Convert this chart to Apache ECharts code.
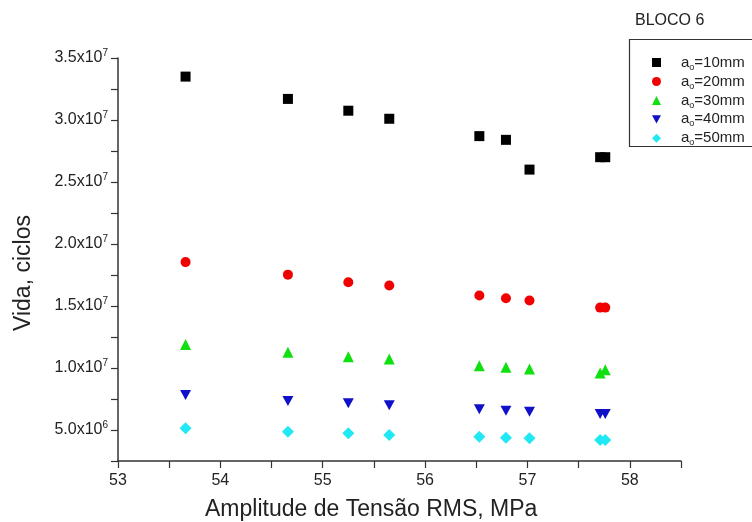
<!DOCTYPE html>
<html>
<head>
<meta charset="utf-8">
<script src="https://cdn.jsdelivr.net/npm/echarts@6/dist/echarts.min.js"></script>
<style>
html,body{margin:0;padding:0;background:#fff;}
#chart{width:752px;height:522px;}
</style>
</head>
<body>
<div id="chart"></div>
<script>
// ---- data ----
const stressRMS = [53.66, 54.66, 55.25, 55.65, 56.53, 56.79, 57.02, 57.71, 57.76];
const life10 = [3.35e7, 3.17e7, 3.075e7, 3.01e7, 2.87e7, 2.84e7, 2.60e7, 2.70e7, 2.70e7];
const life20 = [1.854e7, 1.753e7, 1.692e7, 1.665e7, 1.584e7, 1.563e7, 1.544e7, 1.487e7, 1.487e7];
const life30 = [1.19e7, 1.127e7, 1.091e7, 1.073e7, 1.019e7, 1.006e7, 0.992e7, 9.6e6, 9.85e6];
const life40 = [7.83e6, 7.34e6, 7.15e6, 7.0e6, 6.67e6, 6.56e6, 6.48e6, 6.3e6, 6.3e6];
const life50 = [5.14e6, 4.86e6, 4.73e6, 4.6e6, 4.46e6, 4.38e6, 4.33e6, 4.19e6, 4.19e6];
const seriesNames = ['10mm', '20mm', '30mm', '40mm', '50mm'];
const yTickValues = [5e6, 1e7, 1.5e7, 2e7, 2.5e7, 3e7, 3.5e7];
const yTickMantissa = ['5.0', '1.0', '1.5', '2.0', '2.5', '3.0', '3.5'];
const yTickExponent = ['6', '7', '7', '7', '7', '7', '7'];
const xTickValues = [53, 54, 55, 56, 57, 58];
const xTickLabels = ['53', '54', '55', '56', '57', '58'];
const chartTitle = 'BLOCO 6';
const xTitle = 'Amplitude de Tensão RMS, MPa';
const yTitle = 'Vida, ciclos';

const FONT = '"Liberation Sans", Arial, Helvetica, sans-serif';
const TXT = '#222';

function pairs(ys) { return stressRMS.map((x, i) => [x, ys[i]]); }

const styles = [
  { symbol: 'rect', size: 10, color: '#000000' },
  { symbol: 'circle', size: 10, color: '#f00000' },
  { symbol: 'triangle', size: 11, color: '#10e010' },
  { symbol: 'path://M0,0 L10,0 L5,9 Z', size: [11, 10], color: '#1010c8' },
  { symbol: 'diamond', size: 12, color: '#20e8f4' }
];
const allData = [life10, life20, life30, life40, life50];

const chart = echarts.init(document.getElementById('chart'), null, { renderer: 'canvas' });

const option = {
  animation: false,
  backgroundColor: '#fff',
  title: {
    text: chartTitle,
    left: 630,
    top: 8,
    textStyle: { fontFamily: FONT, fontSize: 16, fontWeight: 'normal', color: TXT }
  },
  legend: {
    orient: 'vertical',
    left: 652,
    top: 55,
    itemWidth: 9,
    itemHeight: 9,
    itemGap: 2.3,
    padding: 0,
    selectedMode: false,
    data: seriesNames,
    formatter: function (name) { return '{sp| }{a|a}{s|o}{a|=' + name + '}'; },
    textStyle: {
      fontFamily: FONT,
      color: TXT,
      rich: {
        sp: { width: 15, fontSize: 15, lineHeight: 18.3 },
        a: { fontFamily: FONT, fontSize: 15, color: TXT, lineHeight: 18.3 },
        s: { fontFamily: FONT, fontSize: 9, color: TXT, lineHeight: 9, verticalAlign: 'bottom' }
      }
    }
  },
  grid: {
    left: 118, right: 71, top: 58, bottom: 61,
    containLabel: false,
    outerBoundsMode: 'none'
  },
  xAxis: {
    type: 'value',
    min: 53, max: 58.5, interval: 0.5,
    splitLine: { show: false },
    axisLine: { show: true, onZero: false, lineStyle: { color: '#333', width: 1.5 } },
    axisTick: { show: true, inside: false, length: 7, lineStyle: { color: '#333', width: 1.2 } },
    axisLabel: {
      margin: 12,
      fontFamily: FONT, fontSize: 16, color: TXT,
      formatter: function (v) {
        const i = xTickValues.findIndex(t => Math.abs(t - v) < 1e-6);
        return i >= 0 ? xTickLabels[i] : '';
      }
    }
  },
  yAxis: {
    type: 'value',
    min: 2.5e6, max: 3.5e7, interval: 2.5e6,
    splitLine: { show: false },
    axisLine: { show: true, onZero: false, lineStyle: { color: '#333', width: 1.5 } },
    axisTick: { show: true, inside: false, length: 7, lineStyle: { color: '#333', width: 1.2 } },
    axisLabel: {
      margin: 10,
      fontFamily: FONT, color: TXT,
      formatter: function (v) {
        const i = yTickValues.findIndex(t => Math.abs(t - v) < 1);
        return i >= 0 ? '{b|' + yTickMantissa[i] + 'x10}{p|' + yTickExponent[i] + '}' : '';
      },
      rich: {
        b: { fontFamily: FONT, fontSize: 16, color: TXT, lineHeight: 20 },
        p: { fontFamily: FONT, fontSize: 10, color: TXT, lineHeight: 10, verticalAlign: 'top' }
      }
    }
  },
  graphic: [
    {
      type: 'rect',
      shape: { x: 629.5, y: 39.5, width: 140, height: 107 },
      style: { fill: 'none', stroke: '#333', lineWidth: 1.2 },
      z: 1
    },
    {
      type: 'text',
      x: 205, y: 510,
      style: { text: xTitle, font: '23px ' + FONT, fill: TXT, textAlign: 'left', textVerticalAlign: 'middle' }
    },
    {
      type: 'text',
      x: 24, y: 273,
      rotation: Math.PI / 2,
      style: { text: yTitle, font: '23px ' + FONT, fill: TXT, textAlign: 'center', textVerticalAlign: 'middle' }
    }
  ],
  series: seriesNames.map((name, k) => ({
    name: name,
    type: 'scatter',
    symbol: styles[k].symbol,
    symbolSize: styles[k].size,
    itemStyle: { color: styles[k].color, opacity: 1 },
    data: pairs(allData[k]),
    z: 3
  }))
};

chart.setOption(option);
</script>
</body>
</html>
